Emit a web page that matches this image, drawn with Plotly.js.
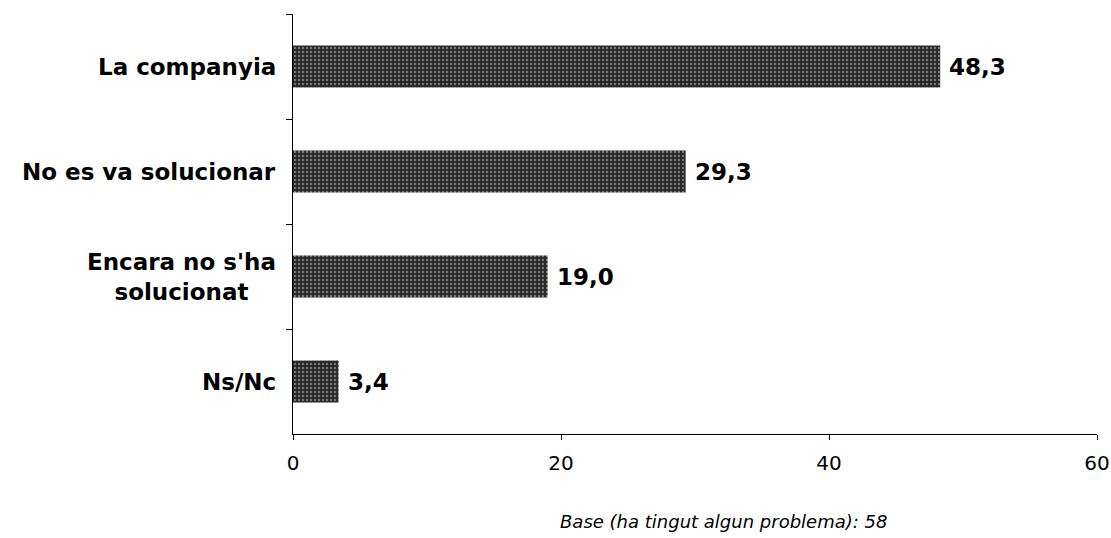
<!DOCTYPE html>
<html><head><meta charset="utf-8">
<script src="https://cdn.plot.ly/plotly-3.0.1.min.js"></script>
<style>body{margin:0;background:#fff}#c{width:1111px;height:538px}</style>
</head><body><div id="c"></div>
<script>
const categories = ["La companyia", "No es va solucionar", "Encara no s'ha<br>solucionat", "Ns/Nc"];
const values = [48.3, 29.3, 19.0, 3.4];
const valueLabels = ["48,3", "29,3", "19,0", "3,4"];
const xTicks = [0, 20, 40, 60];
const footnote = "Base (ha tingut algun problema): 58";

const font = "Verdana, 'DejaVu Sans', sans-serif";
const trace = {
  type: "bar", orientation: "h",
  y: categories, x: values,
  width: 0.4,
  marker: {color: "#2a2a2a", line: {width: 0},
    pattern: {shape: ".", fgcolor: "#9a9a9a", bgcolor: "#2a2a2a", size: 4, solidity: 0.18}},
  hoverinfo: "none"
};
const annotations = categories.map(c => ({
  xref: "paper", yref: "y", x: 0, y: c, xanchor: "right", yanchor: "middle",
  xshift: -15, align: "center", showarrow: false, text: "<b>" + c + "</b>",
  font: {family: font, size: 23, color: "#000"}
}));
categories.forEach((c, i) => annotations.push({
  xref: "x", yref: "y", x: values[i], y: c, xanchor: "left", yanchor: "middle",
  xshift: 7, showarrow: false, text: "<b>" + valueLabels[i] + "</b>",
  font: {family: font, size: 23, color: "#000"}
}));
annotations.push({
  xref: "paper", yref: "paper", x: 0.536, y: 0, xanchor: "center", yanchor: "middle",
  yshift: -87, showarrow: false, text: "<i>" + footnote + "</i>",
  font: {family: font, size: 18, color: "#000"}
});
const layout = {
  width: 1111, height: 538,
  margin: {l: 293, r: 14, t: 14, b: 104},
  paper_bgcolor: "#fff", plot_bgcolor: "#fff",
  showlegend: false,
  xaxis: {range: [0, 60], tickvals: xTicks, ticktext: xTicks.map(String),
    showgrid: false, zeroline: false, showline: true, linecolor: "#000", linewidth: 1,
    ticks: "outside", ticklen: 5, tickcolor: "#000", ticklabelstandoff: 6,
    tickfont: {family: font, size: 20, color: "#000"}},
  yaxis: {autorange: "reversed", showgrid: false, zeroline: false, showline: true,
    linecolor: "#000", linewidth: 1, showticklabels: false,
    ticks: "outside", ticklen: 6, tickcolor: "#000", tickson: "boundaries"},
  annotations: annotations,
  bargap: 0.6
};
Plotly.newPlot("c", [trace], layout, {displayModeBar: false, staticPlot: true});
</script></body></html>
